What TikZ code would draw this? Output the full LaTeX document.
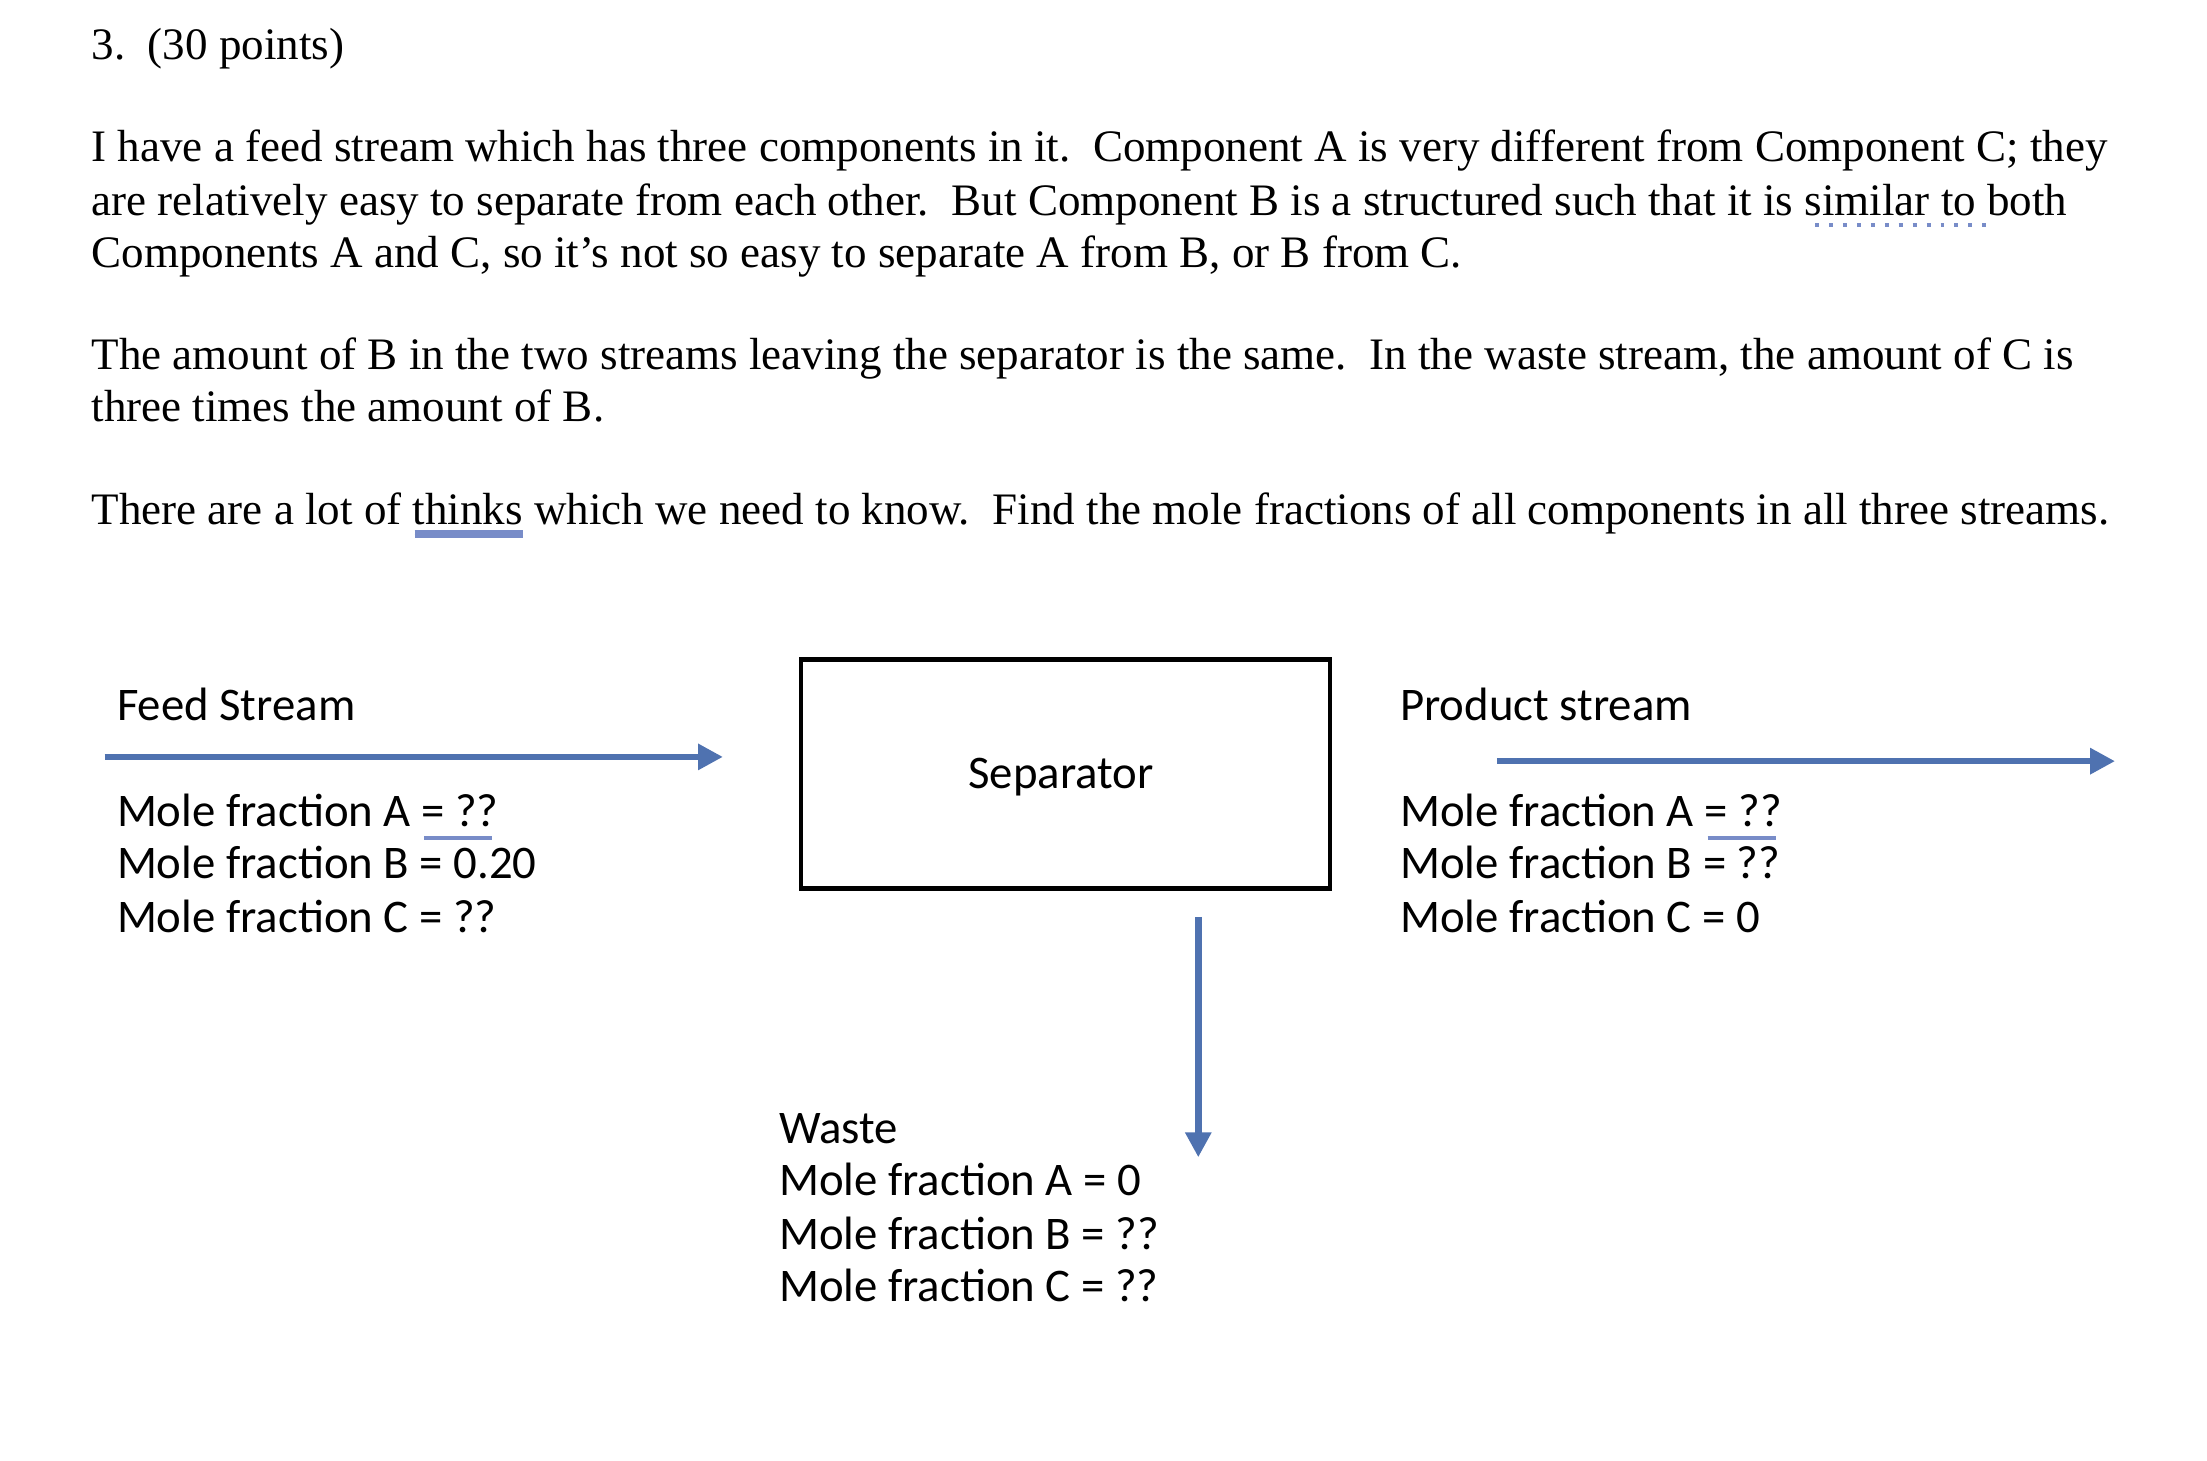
\documentclass[tikz,border=0pt]{standalone}
\usepackage{fontspec}
\setmainfont{Liberation Serif}
\newfontfamily\calfont{Carlito}
\usetikzlibrary{arrows.meta}
\begin{document}
\begin{tikzpicture}[x=0.01cm,y=-0.01cm,
 body/.style={anchor=base west,inner sep=0,font=\fontsize{9.05pt}{10pt}\selectfont},
 lab/.style={anchor=base west,inner sep=0,font=\calfont\fontsize{9.4pt}{11pt}\selectfont},
 flow/.style={draw={rgb,255:red,79;green,114;blue,176},line width=1.3pt,-{Triangle[length=5pt,width=5pt]}},
 squig/.style={draw={rgb,255:red,120;green,140;blue,200},line width=0.8pt}]
\useasboundingbox (0,0) rectangle (1560,1032);
\node[body] (t0) at (64,42) {3.\ \ (30 points)};
\node[body] (t1) at (64,114) {I have a feed stream which has three components in it.\ \ Component A is very different from Component C; they};
\node[body] (t2) at (64,152) {are relatively easy to separate from each other.\ \ But Component B is a structured such that it is similar to both};
\node[body] (t3) at (64,189) {Components A and C, so it's not so easy to separate A from B, or B from C.};
\node[body] (t4) at (64,261) {The amount of B in the two streams leaving the separator is the same.\ \ In the waste stream, the amount of C is};
\node[body] (t5) at (64,298) {three times the amount of B.};
\node[body] (t6) at (64,371) {There are a lot of thinks which we need to know.\ \ Find the mole fractions of all components in all three streams.};
\draw[squig,dotted] (1283,159) -- (1404,159);
\draw[squig] (293,376) -- (370,376);
\draw[squig] (293,379) -- (370,379);

\draw[line width=0.9pt] (566,466) rectangle (940,628);
\node[lab,anchor=base] (sl) at (750,557) {Separator};

\node[lab] (f0) at (82,509) {Feed Stream};
\node[lab] (f1) at (82,584) {Mole fraction A = ??};
\node[lab] (f2) at (82,621) {Mole fraction B = 0.20};
\node[lab] (f3) at (82,659) {Mole fraction C = ??};
\coordinate (fa) at (74,535); \coordinate (fb) at (511,535);
\draw[flow] (fa) -- (fb);
\draw[squig] (300,592) -- (348,592);

\node[lab] (p0) at (989,509) {Product stream};
\node[lab] (p1) at (989,584) {Mole fraction A = ??};
\node[lab] (p2) at (989,621) {Mole fraction B = ??};
\node[lab] (p3) at (989,659) {Mole fraction C = 0};
\coordinate (pa) at (1058,538); \coordinate (pb) at (1495,538);
\draw[flow] (pa) -- (pb);
\draw[squig] (1207,592) -- (1255,592);

\coordinate (wa) at (847,648); \coordinate (wb) at (847,818);
\draw[flow] (wa) -- (wb);
\node[lab] (w0) at (550,808) {Waste};
\node[lab] (w1) at (550,845) {Mole fraction A = 0};
\node[lab] (w2) at (550,883) {Mole fraction B = ??};
\node[lab] (w3) at (550,920) {Mole fraction C = ??};
\end{tikzpicture}
\end{document}
